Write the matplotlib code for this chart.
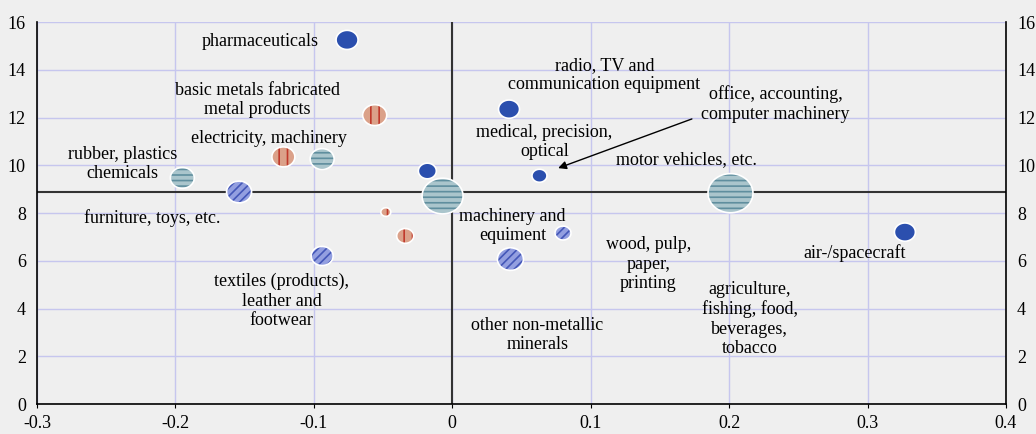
import numpy as np
import matplotlib.pyplot as plt
from matplotlib.path import Path

plt.rcParams['font.family'] = ['Liberation Serif', 'DejaVu Serif']
plt.rcParams['hatch.linewidth'] = 1.2

# bubble data: x = change, y = level, w = bubble weight, g = style group
bx = [-0.076, -0.056, -0.122, -0.094, -0.195, -0.154, -0.018, -0.007,
      0.041, 0.063, -0.048, -0.034, -0.094, 0.042, 0.080, 0.201, 0.327]
by = [15.25, 12.1, 10.35, 10.26, 9.47, 8.88, 9.76, 8.71,
      12.35, 9.56, 8.04, 7.04, 6.2, 6.07, 7.16, 8.83, 7.2]
bw = [22, 24, 23, 24, 24, 25, 18, 41, 21, 15, 10, 17, 22, 26, 16, 45, 21]
bg = ['solid', 'vert', 'vert', 'horiz', 'horiz', 'diag', 'solid', 'horiz',
      'solid', 'solid', 'vert', 'vert', 'diag', 'diag', 'diag', 'horiz', 'solid']

styles = {
    'solid': dict(face='#2b4fae', hatch=None, hc='#2b4fae'),
    'vert': dict(face='#dba189', hatch='||', hc='#c0392b'),
    'horiz': dict(face='#aac5cc', hatch='---', hc='#5f8e9e'),
    'diag': dict(face='#939fe0', hatch='////', hc='#4457b8'),
}

labels = ['pharmaceuticals', 'basic metals fabricated\nmetal products',
          'electricity, machinery', 'rubber, plastics\nchemicals',
          'furniture, toys, etc.', 'radio, TV and\ncommunication equipment',
          'office, accounting,\ncomputer machinery', 'medical, precision,\noptical',
          'motor vehicles, etc.', 'machinery and\nequiment',
          'wood, pulp,\npaper,\nprinting', 'textiles (products),\nleather and\nfootwear',
          'other non-metallic\nminerals', 'agriculture,\nfishing, food,\nbeverages,\ntobacco',
          'air-/spacecraft']
lx = [-0.139, -0.141, -0.1326, -0.238, -0.217, 0.110, 0.2336, 0.0667,
      0.1694, 0.0437, 0.1418, -0.1233, 0.0616, 0.2148, 0.2906]
ly = [15.2, 12.73, 11.14, 10.05, 7.79, 13.78, 12.57, 10.97,
      10.22, 7.46, 5.86, 4.31, 2.89, 3.56, 6.32]

bg_col = '#efefef'
fig = plt.figure(figsize=(10.36, 4.34), dpi=100, facecolor=bg_col)
ax = fig.add_axes([0.0357, 0.0691, 0.9353, 0.8802], facecolor=bg_col)

ax.set_xlim(-0.3, 0.4)
ax.set_ylim(0, 16)
ax.set_xticks(np.arange(-0.3, 0.41, 0.1))
ax.set_xticklabels(['-0.3', '-0.2', '-0.1', '0', '0.1', '0.2', '0.3', '0.4'])
ax.set_yticks(np.arange(0, 17, 2))
ax.grid(True, color='#c6c6ee', linewidth=1)
ax.set_axisbelow(True)
for s in ['left', 'bottom', 'right']:
    ax.spines[s].set_color('black')
    ax.spines[s].set_linewidth(1.2)
ax.spines['top'].set_visible(False)
ax.tick_params(axis='y', length=0, labelsize=13, labelright=True, pad=8)
ax.tick_params(axis='x', length=3, labelsize=13, pad=5)

# reference lines
ax.axvline(0, color='#333333', linewidth=1.5, zorder=1.5)
ax.axhline(8.88, color='#333333', linewidth=1.5, zorder=1.5)

# slightly flattened circle marker
t = np.linspace(0, 2 * np.pi, 60)
ell = Path(np.column_stack([np.cos(t), 0.87 * np.sin(t)]), closed=True)

bx = np.array(bx)
by = np.array(by)
size = (np.array(bw) * 0.72) ** 2
bg = np.array(bg)
for key, st in styles.items():
    m = bg == key
    ax.scatter(bx[m], by[m], s=size[m], marker=ell, facecolor=st['face'],
               edgecolor=st['hc'], linewidth=0, hatch=st['hatch'], zorder=3)
    ax.scatter(bx[m], by[m], s=size[m], marker=ell, facecolor='none',
               edgecolor='white', linewidth=1.2, zorder=4)

for txt, x, y in zip(labels, lx, ly):
    ax.text(x, y, txt, ha='center', va='center', multialignment='center',
            fontsize=13, linespacing=1.2, zorder=5)

ax.annotate('', xy=(0.0746, 9.84), xytext=(0.175, 11.98),
            arrowprops=dict(arrowstyle='-|>', color='black', linewidth=1,
                            mutation_scale=12), zorder=5)

fig.savefig('out.png', dpi=100, facecolor=bg_col)
